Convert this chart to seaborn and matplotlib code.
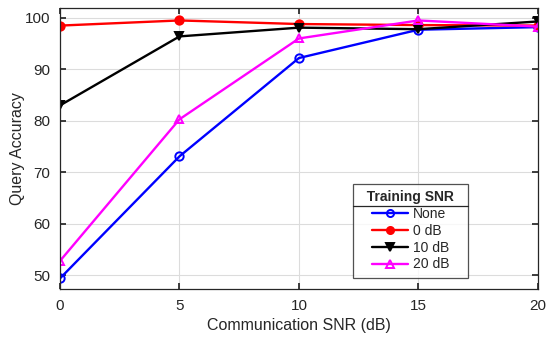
import matplotlib
matplotlib.use("Agg")
import matplotlib.pyplot as plt
import seaborn as sns
import pandas as pd
from matplotlib.lines import Line2D

# 資料
snr_db = [0, 5, 10, 15, 20]
acc_none = [49.4, 73.1, 92.2, 97.7, 98.2]
acc_0db = [98.5, 99.5, 98.8, 98.6, 98.5]
acc_10db = [83.0, 96.4, 98.1, 97.8, 99.3]
acc_20db = [52.8, 80.3, 96.0, 99.5, 98.3]
labels = ["None", "0 dB", "10 dB", "20 dB"]

sns.set_theme(style="whitegrid")
plt.rcParams["font.family"] = ["Liberation Sans", "DejaVu Sans"]

rows = []
for lab, vals in zip(labels, [acc_none, acc_0db, acc_10db, acc_20db]):
    for x, v in zip(snr_db, vals):
        rows.append({"snr": x, "acc": v, "train": lab})
df = pd.DataFrame(rows)

styles = {
    "None": dict(color="#0000ff", marker="o", mfc="none"),
    "0 dB": dict(color="#ff0000", marker="o", mfc="#ff0000"),
    "10 dB": dict(color="#000000", marker="v", mfc="#000000"),
    "20 dB": dict(color="#ff00ff", marker="^", mfc="none"),
}

fig = plt.figure(figsize=(5.46, 3.37), dpi=100)
ax = fig.add_axes([0.110, 0.142, 0.875, 0.834])

for lab in labels:
    st = styles[lab]
    sub = df[df["train"] == lab]
    sns.lineplot(data=sub, x="snr", y="acc", ax=ax, color=st["color"],
                 marker=st["marker"], markersize=6, markerfacecolor=st["mfc"],
                 markeredgecolor=st["color"], markeredgewidth=1.4,
                 linewidth=1.7, label=lab)

ax.set_xlim(0, 20)
ax.set_ylim(47.3, 101.9)
ax.set_xticks([0, 5, 10, 15, 20])
ax.set_yticks([50, 60, 70, 80, 90, 100])
ax.set_facecolor("white")
ax.grid(True, color="#dcdcdc", linewidth=0.8)
for s in ax.spines.values():
    s.set_color("#262626")
    s.set_linewidth(0.9)
ax.tick_params(direction="in", length=4, color="#262626", labelsize=11,
               labelcolor="#262626", left=True, bottom=True, right=True, top=True,
               pad=7)
ax.set_xlabel("Communication SNR (dB)", fontsize=11.5, color="#262626")
ax.set_ylabel("Query Accuracy", fontsize=11.5, color="#262626", labelpad=0)

leg = ax.legend(title="  Training SNR  ", loc="upper left",
                bbox_to_anchor=(0.613, 0.374), borderaxespad=0, fontsize=10,
                title_fontproperties={"weight": "bold", "size": 10},
                frameon=True, fancybox=False, edgecolor="#262626",
                handlelength=2.6, labelspacing=0.2, borderpad=0.45,
                handletextpad=0.35, markerscale=0.85)
leg.get_frame().set_linewidth(0.9)

# 標題與項目之間的分隔線
fig.canvas.draw()
bb = leg.get_window_extent()
tb = leg.get_title().get_window_extent()
inv = fig.transFigure.inverted()
(x0, y0), (x1, y1) = inv.transform([[bb.x0, tb.y0 - 2], [bb.x1, tb.y0 - 2]])
fig.add_artist(Line2D([x0, x1], [y0, y1], color="#262626", linewidth=0.9,
                      transform=fig.transFigure))

fig.savefig("out.png", dpi=100)
